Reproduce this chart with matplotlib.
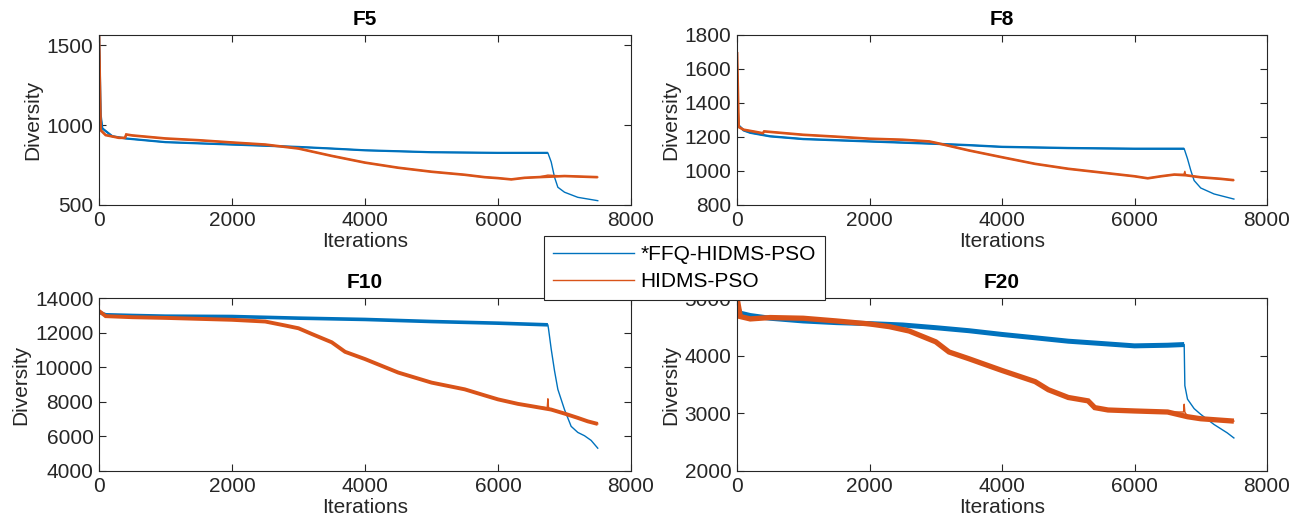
import matplotlib
matplotlib.use("Agg")
import matplotlib.pyplot as plt

plt.rcParams['font.family'] = ['Liberation Sans', 'DejaVu Sans']

# ---------------- data ----------------
titles = ['F5', 'F8', 'F10', 'F20']
series_names = ['*FFQ-HIDMS-PSO', 'HIDMS-PSO']
x_ticks = [0, 2000, 4000, 6000, 8000]

# F5
f5_ffq_iter = [1, 25, 50, 200, 400, 1000, 2000, 3000, 3500, 4000, 5000, 6000, 6750,
               6800, 6850, 6900, 7000, 7200, 7500]
f5_ffq = [1563, 1063, 979, 930, 916, 893, 878, 863, 853, 842, 830, 826, 826,
          769, 674, 611, 580, 548, 527]
f5_hid_iter = [1, 25, 100, 300, 390, 410, 500, 1000, 1500, 2000, 2500, 3000, 3500,
               4000, 4500, 5000, 5500, 5800, 6000, 6200, 6400, 6600, 6750, 7000, 7500]
f5_hid = [1563, 968, 937, 920, 920, 941, 935, 916, 905, 891, 878, 853, 807,
          765, 733, 708, 689, 674, 668, 660, 670, 674, 687, 681, 674]

# F8
f8_ffq_iter = [1, 25, 100, 200, 500, 1000, 2000, 3000, 3500, 4000, 5000, 6000, 6750,
               6800, 6850, 6900, 7000, 7200, 7500]
f8_ffq = [1410, 1268, 1239, 1225, 1204, 1188, 1174, 1160, 1152, 1142, 1135, 1131, 1131,
          1072, 1003, 944, 900, 865, 835]
f8_hid_iter = [1, 25, 100, 300, 390, 410, 1000, 1500, 2000, 2500, 2900, 3000, 3500,
               4000, 4500, 5000, 5500, 6000, 6200, 6400, 6600, 6745, 6760, 6775,
               7000, 7300, 7500]
f8_hid = [1700, 1259, 1243, 1229, 1222, 1233, 1213, 1202, 1190, 1184, 1174, 1166, 1121,
          1081, 1042, 1013, 991, 969, 957, 969, 979, 980, 998, 975,
          963, 954, 946]

# F10
f10_ffq_iter = [1, 100, 500, 1000, 2000, 3000, 4000, 5000, 6000, 6750, 6760, 6800,
                6850, 6900, 7000, 7100, 7200, 7300, 7400, 7500]
f10_ffq = [13180, 13030, 12990, 12950, 12930, 12835, 12760, 12640, 12545, 12450, 12210,
           11050, 9790, 8720, 7550, 6580, 6230, 6040, 5770, 5320]
f10_hid_iter = [1, 100, 500, 1000, 2000, 2500, 2800, 3000, 3200, 3500, 3700, 4000, 4500,
                5000, 5500, 5800, 6000, 6300, 6500, 6740, 6750, 6760, 6800, 7000, 7200,
                7350, 7500]
f10_hid = [13250, 12950, 12890, 12850, 12740, 12640, 12410, 12250, 11920, 11440, 10890,
           10470, 9690, 9110, 8720, 8370, 8140, 7880, 7750, 7650, 8175, 7650, 7550,
           7320, 7070, 6870, 6720]

# F20
f20_ffq_iter = [1, 50, 200, 500, 1000, 1500, 2000, 2500, 3000, 3500, 4000, 4500, 5000,
                5500, 6000, 6500, 6750, 6760, 6800, 6900, 7000, 7200, 7400, 7500]
f20_ffq = [4850, 4737, 4696, 4649, 4602, 4573, 4556, 4532, 4485, 4433, 4368, 4310, 4251,
           4211, 4170, 4181, 4193, 3480, 3246, 3082, 2982, 2807, 2661, 2573]
f20_hid_iter = [1, 50, 200, 500, 1000, 1500, 2000, 2300, 2600, 3000, 3200, 3500, 4000,
                4500, 4700, 5000, 5300, 5400, 5600, 6000, 6500, 6740, 6750, 6760, 6800,
                7000, 7500]
f20_hid = [5000, 4678, 4637, 4661, 4649, 4602, 4550, 4503, 4427, 4240, 4064, 3947, 3743,
           3550, 3409, 3275, 3216, 3099, 3058, 3041, 3023, 3023, 3158, 3023, 2941,
           2906, 2865]

ylims = [(500, 1563), (800, 1800), (4000, 14000), (2000, 5000)]
y_ticks = [[500, 1000, 1500],
           [800, 1000, 1200, 1400, 1600, 1800],
           [4000, 6000, 8000, 10000, 12000, 14000],
           [2000, 3000, 4000, 5000]]

# ---------------- style ----------------
BLUE = '#0072BD'
ORANGE = '#D95319'
DARK = '#262626'
FS = 15
drop_iter = 6750
# thickness (pt) of the noisy band of each panel: (ffq, hidms)
band = [(1.6, 1.9), (1.7, 1.9), (2.6, 2.8), (3.6, 3.8)]

W, H = 1302, 531
fig = plt.figure(figsize=(W / 100, H / 100), dpi=100)

positions = [
    (99, 35, 532, 170),
    (737, 35, 530, 170),
    (99, 298, 532, 173),
    (737, 298, 530, 173),
]

data = [
    (f5_ffq_iter, f5_ffq, f5_hid_iter, f5_hid),
    (f8_ffq_iter, f8_ffq, f8_hid_iter, f8_hid),
    (f10_ffq_iter, f10_ffq, f10_hid_iter, f10_hid),
    (f20_ffq_iter, f20_ffq, f20_hid_iter, f20_hid),
]

handles = None
for i, ((l, t, w, h), (xi1, y1, xi2, y2)) in enumerate(zip(positions, data)):
    ax = fig.add_axes([l / W, 1 - (t + h) / H, w / W, h / H])
    # noisy band (thicker) outside of the narrow spikes
    n1 = sum(1 for v in xi1 if v <= drop_iter)
    ax.plot(xi1[:n1], y1[:n1], color=BLUE, lw=band[i][0],
            solid_capstyle='butt', solid_joinstyle='miter')
    hb, = ax.plot(xi1, y1, color=BLUE, lw=1.0)
    keep = [k for k, v in enumerate(xi2) if not (drop_iter - 15 < v < drop_iter + 15)]
    ax.plot([xi2[k] for k in keep], [y2[k] for k in keep], color=ORANGE,
            lw=band[i][1], solid_capstyle='butt', solid_joinstyle='miter')
    ho, = ax.plot(xi2, y2, color=ORANGE, lw=1.0)
    handles = [hb, ho]

    ax.set_xlim(0, 8000)
    ax.set_ylim(*ylims[i])
    ax.set_xticks(x_ticks)
    ax.set_yticks(y_ticks[i])
    ax.set_xticklabels([str(v) for v in x_ticks])
    ax.set_yticklabels([str(v) for v in y_ticks[i]])
    ax.tick_params(direction='in', length=5, width=0.8, colors=DARK,
                   labelsize=FS, top=True, right=True, pad=4)
    for s in ax.spines.values():
        s.set_color(DARK)
        s.set_linewidth(0.8)
    ax.set_title(titles[i], fontsize=FS, fontweight='bold', pad=7, color='black')
    ax.set_xlabel('Iterations', fontsize=FS, color=DARK, labelpad=2)
    ax.set_ylabel('Diversity', fontsize=FS, color=DARK, labelpad=3)

leg = fig.legend(handles, series_names, loc='center',
                 bbox_to_anchor=(684.5 / W, 1 - 268 / H),
                 fontsize=FS, frameon=True, fancybox=False, framealpha=1,
                 edgecolor=DARK, handlelength=3.9, handletextpad=0.3,
                 borderpad=0.45, labelspacing=0.38, borderaxespad=0)
leg.get_frame().set_linewidth(0.8)
for line in leg.get_lines():
    line.set_linewidth(1.0)
for txt in leg.get_texts():
    txt.set_color('black')

fig.savefig('out.png', dpi=100)
